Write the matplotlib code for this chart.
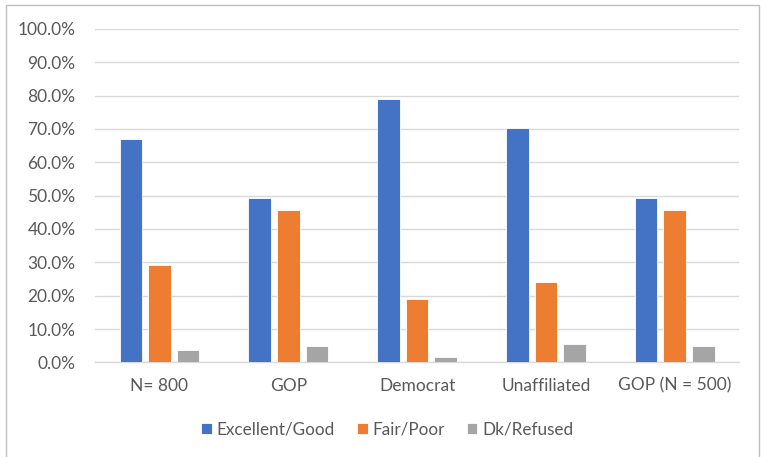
import matplotlib.pyplot as plt
import numpy as np
from matplotlib.patches import Rectangle

categories = ["N= 800", "GOP", "Democrat", "Unaffiliated", "GOP (N = 500)"]
excellent_good = [67.0, 49.2, 79.0, 70.2, 49.2]
fair_poor = [29.2, 45.8, 19.0, 24.0, 45.8]
dk_refused = [3.6, 4.8, 1.6, 5.6, 4.8]
series_names = ["Excellent/Good", "Fair/Poor", "Dk/Refused"]
yticks = np.arange(0, 101, 10)

colors = ["#4472C4", "#ED7D31", "#A5A5A5"]
plt.rcParams["font.family"] = ["Lato", "DejaVu Sans"]

fig = plt.figure(figsize=(7.66, 4.57), dpi=100)
ax = fig.add_axes([0.124, 0.207, 0.841, 0.730])

x = np.arange(len(categories))
width = 0.175
offset = 0.222
for i, (vals, name) in enumerate(zip([excellent_good, fair_poor, dk_refused], series_names)):
    ax.bar(x + (i - 1) * offset, vals, width, color=colors[i], label=name,
           edgecolor="white", linewidth=0.6, zorder=3)

ax.set_xlim(-0.5, len(categories) - 0.5)
ax.set_ylim(0, 100)
ax.set_yticks(yticks)
ax.set_yticklabels([f"{v:.1f}%" for v in yticks])
ax.set_xticks(x)
ax.set_xticklabels(categories)
ax.tick_params(axis="both", length=0, labelsize=12.5, colors="#595959")
ax.tick_params(axis="y", pad=14)
ax.tick_params(axis="x", pad=11)
ax.grid(axis="y", color="#D9D9D9", linewidth=1, zorder=0)
for s in ["top", "right", "left"]:
    ax.spines[s].set_visible(False)
ax.spines["bottom"].set_color("#D9D9D9")
ax.spines["bottom"].set_linewidth(1)

leg = fig.legend(loc="center", bbox_to_anchor=(0.506, 0.06), ncol=3, frameon=False,
                 fontsize=12.3, handlelength=0.6, handleheight=0.6, columnspacing=1.3,
                 handletextpad=0.3)
for t in leg.get_texts():
    t.set_color("#595959")

# chart border
fig.patches.append(Rectangle((6 / 766, -0.01), 753 / 766, 1 - 5 / 457 + 0.01,
                             transform=fig.transFigure, fill=False,
                             edgecolor="#BFBFBF", linewidth=1))

fig.savefig("out.png", dpi=100)
